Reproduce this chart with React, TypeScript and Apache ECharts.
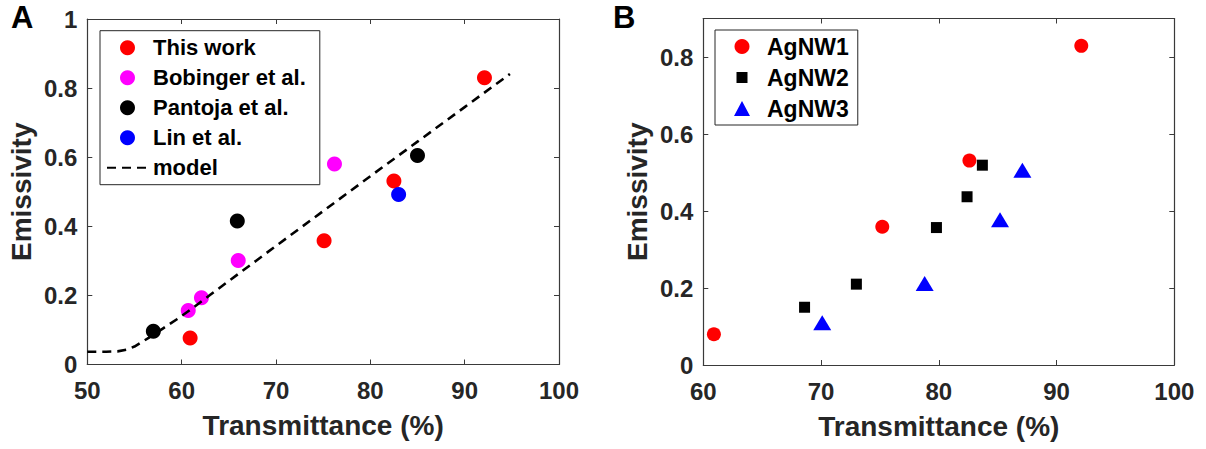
import React, { useEffect, useRef } from "react";
import * as echarts from "echarts";

const FONT = "Liberation Sans, Arial, Helvetica, sans-serif";
const TXT = "#262626";
const AXC = "#3a3a3a";

// Panel A data
const thisWorkX = [92.1, 82.5, 75.1, 60.9];
const thisWorkY = [0.83, 0.531, 0.358, 0.077];
const bobingerX = [76.2, 66.0, 62.1, 60.7];
const bobingerY = [0.58, 0.301, 0.193, 0.156];
const pantojaX = [85.0, 65.9, 57.0];
const pantojaY = [0.605, 0.415, 0.096];
const linX = [83.0];
const linY = [0.492];
const modelX = [50, 52, 53.2, 54.2, 55, 56.5, 58, 59.5, 61, 63, 66, 70, 75, 80, 85, 90, 94.8];
const modelY = [0.037, 0.037, 0.038, 0.043, 0.052, 0.077, 0.104, 0.131, 0.16, 0.201, 0.262, 0.343, 0.444, 0.545, 0.645, 0.745, 0.841];

// Panel B data
const agnw1X = [60.9, 75.2, 82.6, 92.1];
const agnw1Y = [0.08, 0.359, 0.531, 0.829];
const agnw2X = [68.6, 73.0, 79.8, 82.4, 83.7];
const agnw2Y = [0.15, 0.21, 0.357, 0.437, 0.519];
const agnw3X = [70.1, 78.8, 85.2, 87.1];
const agnw3Y = [0.11, 0.212, 0.377, 0.506];

const xTitle = "Transmittance (%)";
const yTitle = "Emissivity";

const zip = (xs: number[], ys: number[]) => xs.map((x, i) => [x, ys[i]]);

function mainX(grid: number, min: number, max: number) {
  return {
    gridIndex: grid, type: "value", min, max, interval: 10, position: "bottom",
    axisLine: { show: true, onZero: false, lineStyle: { color: AXC, width: 1.2 } },
    axisTick: { show: true, inside: true, length: 5, lineStyle: { color: AXC } },
    axisLabel: { fontSize: 24, fontWeight: "bold", color: TXT, margin: 14, fontFamily: FONT },
    splitLine: { show: false },
    name: xTitle, nameLocation: "middle", nameGap: 47,
    nameTextStyle: { fontSize: 28, fontWeight: "bold", color: TXT, fontFamily: FONT },
  };
}
function mirrorX(grid: number, min: number, max: number) {
  return {
    gridIndex: grid, type: "value", min, max, interval: 10, position: "top",
    axisLine: { show: true, onZero: false, lineStyle: { color: AXC, width: 1.2 } },
    axisTick: { show: true, inside: true, length: 5, lineStyle: { color: AXC } },
    axisLabel: { show: false }, splitLine: { show: false },
  };
}
function mainY(grid: number, max: number, hideMax: boolean) {
  return {
    gridIndex: grid, type: "value", min: 0, max, interval: 0.2, position: "left",
    axisLine: { show: true, onZero: false, lineStyle: { color: AXC, width: 1.2 } },
    axisTick: { show: true, inside: true, length: 5, lineStyle: { color: AXC } },
    axisLabel: { fontSize: 24, fontWeight: "bold", color: TXT, margin: 10, fontFamily: FONT, showMaxLabel: !hideMax },
    splitLine: { show: false },
    name: yTitle, nameLocation: "middle", nameGap: 52, nameRotate: 90,
    nameTextStyle: { fontSize: 28, fontWeight: "bold", color: TXT, fontFamily: FONT },
  };
}
function mirrorY(grid: number, max: number) {
  return {
    gridIndex: grid, type: "value", min: 0, max, interval: 0.2, position: "right",
    axisLine: { show: true, onZero: false, lineStyle: { color: AXC, width: 1.2 } },
    axisTick: { show: true, inside: true, length: 5, lineStyle: { color: AXC } },
    axisLabel: { show: false }, splitLine: { show: false },
  };
}

export default function App() {
  const ref = useRef<HTMLDivElement>(null);
  useEffect(() => {
    document.body.style.margin = "0";
    const chart = echarts.init(ref.current!, null, { renderer: "svg" });
    const scatterA = (name: string, xs: number[], ys: number[], color: string) => ({
      type: "scatter", name, xAxisIndex: 0, yAxisIndex: 0, data: zip(xs, ys),
      symbol: "circle", symbolSize: 15, itemStyle: { color, opacity: 1 },
    });
    const option: any = {
      animation: false,
      backgroundColor: "#fff",
      title: [
        { text: "A", left: 11, top: 2, padding: 0, textStyle: { fontSize: 31, fontWeight: "bold", color: "#000", fontFamily: FONT } },
        { text: "B", left: 613, top: 2, padding: 0, textStyle: { fontSize: 31, fontWeight: "bold", color: "#000", fontFamily: FONT } },
      ],
      grid: [
        { left: 87.3, top: 19, width: 471.7, height: 345.5 },
        { left: 703.3, top: 18.5, width: 471, height: 346.5 },
      ],
      xAxis: [mainX(0, 50, 100), mirrorX(0, 50, 100), mainX(1, 60, 100), mirrorX(1, 60, 100)],
      yAxis: [mainY(0, 1, false), mirrorY(0, 1), mainY(1, 0.9, true), mirrorY(1, 0.9)],
      legend: [
        {
          orient: "vertical", left: 100, top: 30.7,
          itemWidth: 41, itemHeight: 15, itemGap: 8,
          padding: [6, 14, 6, 6], symbolKeepAspect: true,
          borderColor: "#262626", borderWidth: 1, backgroundColor: "#fff",
          textStyle: { fontSize: 22, fontWeight: "bold", color: "#000", fontFamily: FONT, lineHeight: 22 },
          data: ["This work", "Bobinger et al.", "Pantoja et al.", "Lin et al.", "model"],
        },
        {
          orient: "vertical", left: 715, top: 30,
          itemWidth: 40, itemHeight: 15, itemGap: 8,
          padding: [5, 9, 5, 7], symbolKeepAspect: true,
          borderColor: "#262626", borderWidth: 1, backgroundColor: "#fff",
          textStyle: { fontSize: 23, fontWeight: "bold", color: "#000", fontFamily: FONT, lineHeight: 23 },
          data: [
            { name: "AgNW1", icon: "circle" },
            { name: "AgNW2", icon: "path://M0,0M15,15M2,2h11v11h-11z" },
            { name: "AgNW3", icon: "path://M0,0M40,15M12,15L20,0L28,15z" },
          ],
        },
      ],
      series: [
        scatterA("This work", thisWorkX, thisWorkY, "#ff0000"),
        scatterA("Bobinger et al.", bobingerX, bobingerY, "#ff00ff"),
        scatterA("Pantoja et al.", pantojaX, pantojaY, "#000000"),
        scatterA("Lin et al.", linX, linY, "#0000ff"),
        {
          type: "line", name: "model", xAxisIndex: 0, yAxisIndex: 0, data: zip(modelX, modelY),
          symbol: "none", smooth: false, z: 3,
          lineStyle: { color: "#000", width: 2.6, type: [9, 6] },
          itemStyle: { color: "rgba(0,0,0,0)", borderWidth: 0 },
        },
        {
          type: "scatter", name: "AgNW1", xAxisIndex: 2, yAxisIndex: 2, data: zip(agnw1X, agnw1Y),
          symbol: "circle", symbolSize: 14, itemStyle: { color: "#ff0000", opacity: 1 },
        },
        {
          type: "scatter", name: "AgNW2", xAxisIndex: 2, yAxisIndex: 2, data: zip(agnw2X, agnw2Y),
          symbol: "rect", symbolSize: 11, itemStyle: { color: "#000000", opacity: 1 },
        },
        {
          type: "scatter", name: "AgNW3", xAxisIndex: 2, yAxisIndex: 2, data: zip(agnw3X, agnw3Y),
          symbol: "triangle", symbolSize: [18, 15], itemStyle: { color: "#0000ff", opacity: 1 },
        },
      ],
    };
    chart.setOption(option);
    return () => chart.dispose();
  }, []);
  return <div ref={ref} style={{ width: 1206, height: 449 }} />;
}
